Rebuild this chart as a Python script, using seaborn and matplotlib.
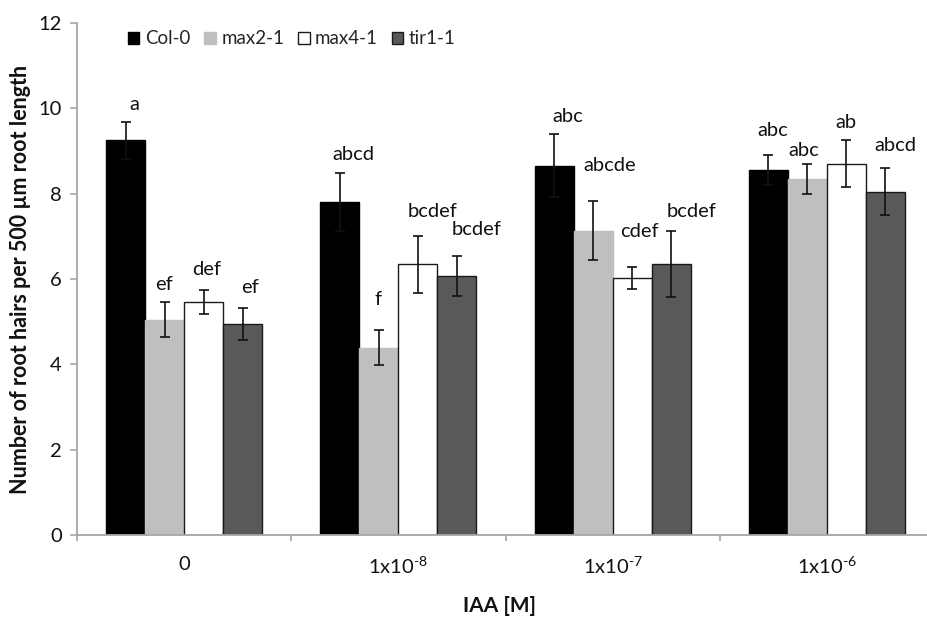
import numpy as np
import pandas as pd
import matplotlib
matplotlib.use("Agg")
import matplotlib.pyplot as plt
from matplotlib.patches import Patch
import seaborn as sns

# Root hair counts per genotype and IAA concentration
concentrations = ["0", "1x10$^{\\text{-8}}$", "1x10$^{\\text{-7}}$", "1x10$^{\\text{-6}}$"]
genotypes = ["Col-0", "max2-1", "max4-1", "tir1-1"]

col0 = [9.25, 7.80, 8.66, 8.55]
max2 = [5.05, 4.39, 7.13, 8.35]
max4 = [5.46, 6.34, 6.02, 8.70]
tir1 = [4.94, 6.07, 6.35, 8.05]

col0_err = [0.44, 0.68, 0.73, 0.35]
max2_err = [0.40, 0.41, 0.69, 0.35]
max4_err = [0.28, 0.67, 0.25, 0.55]
tir1_err = [0.38, 0.47, 0.78, 0.55]

# Significance letters (Tukey groups), per genotype across concentrations
col0_letters = ["a", "abcd", "abc", "abc"]
max2_letters = ["ef", "f", "abcde", "abc"]
max4_letters = ["def", "bcdef", "cdef", "ab"]
tir1_letters = ["ef", "bcdef", "bcdef", "abcd"]

# Placement of the letters (height in data units, horizontal nudge in category units)
letter_y = [[10.08, 8.91, 9.80, 9.47],
            [5.86, 5.51, 8.67, 9.00],
            [6.23, 7.59, 7.12, 9.66],
            [5.81, 7.17, 7.59, 9.12]]
letter_dx = [[0.042, 0.061, 0.061, 0.019],
             [-0.005, -0.005, 0.079, -0.019],
             [0.014, 0.070, 0.033, 0.0],
             [0.033, 0.093, 0.098, 0.047]]

values = [col0, max2, max4, tir1]
errors = [col0_err, max2_err, max4_err, tir1_err]
letters = [col0_letters, max2_letters, max4_letters, tir1_letters]

df = pd.DataFrame({
    "IAA": np.tile(concentrations, len(genotypes)),
    "genotype": np.repeat(genotypes, len(concentrations)),
    "hairs": np.concatenate(values),
})

sns.set_theme(style="white")
plt.rcParams["font.family"] = ["Lato", "DejaVu Sans"]
plt.rcParams["mathtext.fontset"] = "custom"
plt.rcParams["mathtext.rm"] = "Lato"
plt.rcParams["mathtext.default"] = "regular"
plt.rcParams["axes.unicode_minus"] = False

FS = 14.5

fig = plt.figure(figsize=(9.27, 6.19), dpi=100)
ax = fig.add_axes([77 / 927, 84 / 619, 857 / 927, 512 / 619])

fills = ["#000000", "#bfbfbf", "#ffffff", "#595959"]
edges = ["#000000", "#bfbfbf", "#1a1a1a", "#1a1a1a"]

sns.barplot(data=df, x="IAA", y="hairs", hue="genotype", order=concentrations,
            hue_order=genotypes, palette=fills, width=0.727, gap=0,
            errorbar=None, ax=ax, legend=False)

text_col = "#111111"
bar_groups = list(ax.containers)
for i, cont in enumerate(bar_groups):
    xs = []
    for bar in cont:
        bar.set_edgecolor(edges[i])
        bar.set_linewidth(1.0)
        xs.append(bar.get_x() + bar.get_width() / 2)
    xs = np.array(xs)
    ax.errorbar(xs, values[i], yerr=errors[i], fmt="none", ecolor="#111111",
                elinewidth=1.2, capsize=3.4, capthick=1.2, zorder=5)
    for j, x in enumerate(xs):
        ax.text(x + letter_dx[i][j], letter_y[i][j], letters[i][j],
                ha="center", va="center", fontsize=FS, color=text_col)

# Legend across the top
handles = [Patch(facecolor=fills[k], edgecolor=edges[k], linewidth=1.0)
           for k in range(4)]
fig.legend(handles, genotypes, loc="center left",
           bbox_to_anchor=(128 / 927, 1 - 39 / 619), ncol=4, frameon=False,
           fontsize=13.5, handlelength=0.6, handleheight=0.6,
           handletextpad=0.3, columnspacing=0.75, borderaxespad=0, borderpad=0)

# Axes styling
ax.set_ylim(0, 12)
ax.set_xlim(-0.5, 3.5)
ax.set_yticks([0, 2, 4, 6, 8, 10, 12])
ax.set_xticks(range(len(concentrations)))
ax.set_xticklabels(concentrations)
ax.set_xticks([-0.5, 0.5, 1.5, 2.5], minor=True)

spine_col = "#a6a6a6"
for side in ["top", "right"]:
    ax.spines[side].set_visible(False)
for side in ["left", "bottom"]:
    ax.spines[side].set_color(spine_col)
    ax.spines[side].set_linewidth(1.3)

ax.tick_params(axis="y", which="major", direction="out", length=5, width=1.2,
               color=spine_col, labelsize=FS, labelcolor=text_col, pad=6, left=True)
ax.tick_params(axis="x", which="major", length=0, pad=15,
               labelsize=FS, labelcolor=text_col)
ax.tick_params(axis="x", which="minor", direction="out", length=4, width=1.2,
               color=spine_col, bottom=True)

ax.set_ylabel("Number of root hairs per 500 µm root length", fontsize=15.5,
              fontweight="bold", color=text_col)
ax.yaxis.set_label_coords(-0.066, 0.5)
ax.yaxis.label.set_verticalalignment("center")
ax.set_xlabel("IAA [M]", fontsize=15, fontweight="bold", color=text_col)
ax.xaxis.set_label_coords(0.4925, -0.139)
ax.xaxis.label.set_verticalalignment("center")

fig.savefig("out.png", dpi=100)
